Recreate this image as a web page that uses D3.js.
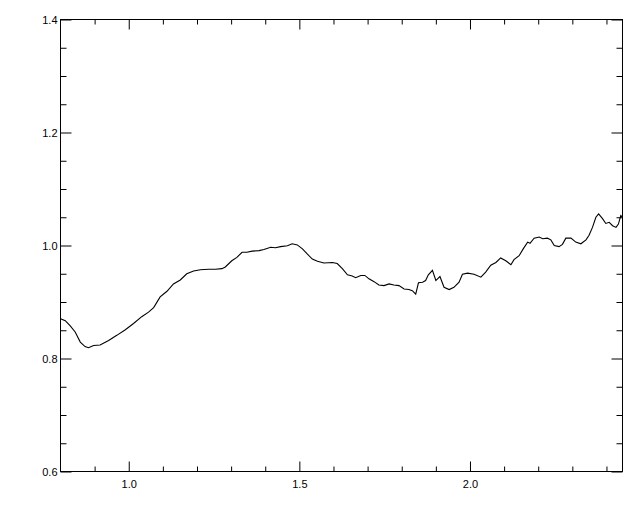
<!DOCTYPE html>
<html><head><meta charset="utf-8">
<script src="https://cdn.jsdelivr.net/npm/d3@7"></script>
<style>
html,body{margin:0;padding:0;background:#fff;}
svg{display:block;}
.ax text{font-family:"Liberation Sans",Arial,sans-serif;font-size:11px;fill:#000;}
.ax line{stroke:#000;}
.ax path{display:none;}
</style></head>
<body>
<svg id="c" width="640" height="512"></svg>
<script>
// Data
const wavelength = [0.800,0.802,0.814,0.828,0.843,0.858,0.872,0.882,0.897,0.916,0.941,0.965,0.990,1.014,1.038,1.058,1.073,1.092,1.112,1.131,1.151,1.170,1.190,1.210,1.234,1.254,1.273,1.283,1.302,1.317,1.332,1.346,1.362,1.382,1.396,1.416,1.430,1.445,1.465,1.479,1.494,1.509,1.523,1.538,1.553,1.572,1.597,1.611,1.626,1.641,1.655,1.665,1.680,1.692,1.704,1.719,1.733,1.748,1.763,1.777,1.792,1.807,1.821,1.831,1.841,1.849,1.861,1.870,1.878,1.890,1.900,1.912,1.924,1.939,1.953,1.968,1.978,1.993,2.012,2.032,2.046,2.061,2.076,2.090,2.105,2.120,2.129,2.144,2.156,2.169,2.176,2.188,2.203,2.213,2.227,2.237,2.247,2.261,2.271,2.281,2.296,2.310,2.325,2.340,2.349,2.359,2.369,2.377,2.389,2.398,2.408,2.418,2.428,2.435,2.442,2.447];
const ratio = [0.871,0.870,0.867,0.858,0.847,0.829,0.821,0.819,0.823,0.824,0.832,0.841,0.851,0.862,0.874,0.882,0.890,0.909,0.919,0.932,0.939,0.950,0.955,0.957,0.958,0.958,0.959,0.962,0.973,0.979,0.988,0.988,0.990,0.991,0.993,0.997,0.996,0.998,0.9995,1.003,1.001,0.994,0.985,0.976,0.972,0.969,0.970,0.968,0.959,0.948,0.946,0.943,0.947,0.947,0.941,0.936,0.930,0.929,0.932,0.930,0.929,0.923,0.922,0.920,0.914,0.934,0.935,0.938,0.948,0.956,0.938,0.945,0.926,0.922,0.926,0.935,0.949,0.951,0.949,0.944,0.953,0.965,0.970,0.978,0.973,0.966,0.975,0.982,0.994,1.006,1.004,1.013,1.015,1.012,1.013,1.010,1.000,0.998,1.002,1.013,1.013,1.006,1.003,1.010,1.018,1.032,1.050,1.056,1.047,1.039,1.041,1.035,1.032,1.038,1.053,1.050];
const xMajorTicks = [1.0, 1.5, 2.0];
const xMinorTicks = [0.9,1.1,1.2,1.3,1.4,1.6,1.7,1.8,1.9,2.1,2.2,2.3,2.4];
const yMajorTicks = [0.6, 0.8, 1.0, 1.2, 1.4];
const yMinorTicks = [0.65,0.7,0.75,0.85,0.9,0.95,1.05,1.1,1.15,1.25,1.3,1.35];
const xDomain = [0.8, 2.447];
const yDomain = [0.6, 1.4];

const svg = d3.select("#c");
const L = 60.5, R = 622.5, T = 19.5, B = 471.5;
const x = d3.scaleLinear().domain(xDomain).range([L, R]);
const y = d3.scaleLinear().domain(yDomain).range([B, T]);
const fmt = d3.format(".1f");

// frame
svg.append("rect").attr("x", L).attr("y", T).attr("width", R - L).attr("height", B - T)
  .attr("fill", "none").attr("stroke", "#000").attr("stroke-width", 1);

// bottom axis
svg.append("g").attr("class","ax").attr("transform",`translate(0,${B})`)
  .call(d3.axisBottom(x).tickValues(xMinorTicks).tickSize(-5).tickSizeOuter(0).tickFormat(""));
const bx = svg.append("g").attr("class","ax").attr("transform",`translate(0,${B})`)
  .call(d3.axisBottom(x).tickValues(xMajorTicks).tickSize(-10).tickSizeOuter(0).tickFormat(fmt).tickPadding(8));
bx.selectAll("text").attr("y", 9).attr("dy", "0.71em");
// top axis
svg.append("g").attr("class","ax").attr("transform",`translate(0,${T})`)
  .call(d3.axisTop(x).tickValues(xMinorTicks).tickSize(-5).tickSizeOuter(0).tickFormat(""));
svg.append("g").attr("class","ax").attr("transform",`translate(0,${T})`)
  .call(d3.axisTop(x).tickValues(xMajorTicks).tickSize(-10).tickSizeOuter(0).tickFormat(""));
// left axis
svg.append("g").attr("class","ax").attr("transform",`translate(${L},0)`)
  .call(d3.axisLeft(y).tickValues(yMinorTicks).tickSize(-6).tickSizeOuter(0).tickFormat(""));
const ly = svg.append("g").attr("class","ax").attr("transform",`translate(${L},0)`)
  .call(d3.axisLeft(y).tickValues(yMajorTicks).tickSize(-11).tickSizeOuter(0).tickFormat(fmt));
ly.selectAll("text").attr("x", -3);
// right axis
svg.append("g").attr("class","ax").attr("transform",`translate(${R},0)`)
  .call(d3.axisRight(y).tickValues(yMinorTicks).tickSize(-6).tickSizeOuter(0).tickFormat(""));
svg.append("g").attr("class","ax").attr("transform",`translate(${R},0)`)
  .call(d3.axisRight(y).tickValues(yMajorTicks).tickSize(-11).tickSizeOuter(0).tickFormat(""));

// line
const data = wavelength.map((w, i) => [w, ratio[i]]);
svg.append("path").datum(data)
  .attr("fill", "none").attr("stroke", "#000").attr("stroke-width", 1.1)
  .attr("d", d3.line().x(d => x(d[0])).y(d => y(d[1])));
</script>
</body></html>
